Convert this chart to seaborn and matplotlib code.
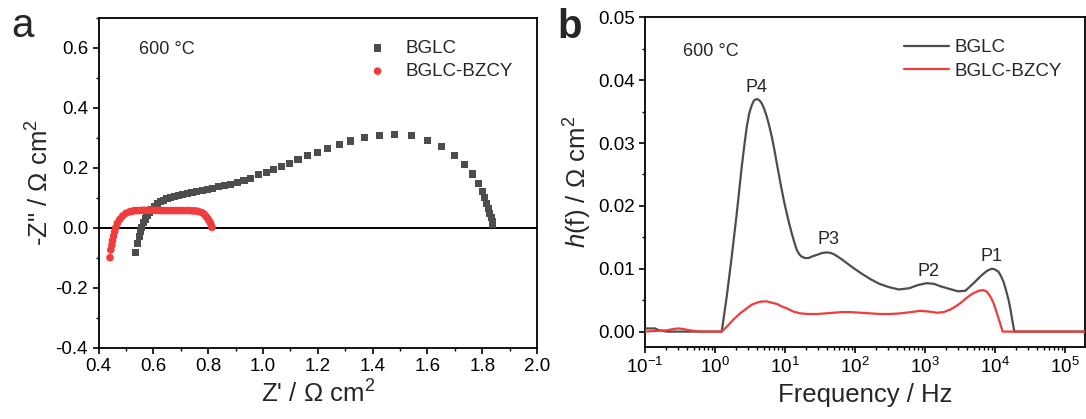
import numpy as np
import pandas as pd
import matplotlib
matplotlib.use("Agg")
import matplotlib.pyplot as plt
import matplotlib.ticker as mticker
import seaborn as sns

# ---------------- data: panel a (Nyquist) ----------------
zre_bglc = [0.535, 0.542, 0.548, 0.553, 0.558, 0.564, 0.570, 0.577, 0.585, 0.594,
            0.604, 0.614, 0.625, 0.637, 0.650, 0.663, 0.677, 0.692, 0.708, 0.724,
            0.741, 0.759, 0.778, 0.797, 0.817, 0.838, 0.860, 0.883, 0.907, 0.931,
            0.955, 0.985, 1.012, 1.039, 1.067, 1.096, 1.128, 1.162, 1.198, 1.236,
            1.278, 1.321, 1.369, 1.424, 1.480, 1.541, 1.599, 1.653, 1.698, 1.736,
            1.765, 1.785, 1.800, 1.809, 1.816, 1.822, 1.828, 1.833, 1.837, 1.839]
zim_bglc = [-0.082, -0.054, -0.028, -0.012, 0.002, 0.016, 0.029, 0.040, 0.051, 0.061,
            0.071, 0.079, 0.086, 0.092, 0.097, 0.100, 0.104, 0.107, 0.111, 0.114,
            0.117, 0.120, 0.123, 0.127, 0.131, 0.136, 0.140, 0.145, 0.151, 0.158,
            0.165, 0.176, 0.185, 0.193, 0.203, 0.215, 0.227, 0.240, 0.251, 0.263,
            0.277, 0.289, 0.300, 0.308, 0.311, 0.307, 0.292, 0.270, 0.242, 0.211,
            0.179, 0.148, 0.122, 0.100, 0.081, 0.065, 0.048, 0.035, 0.021, 0.012]

zre_bzcy = [0.442, 0.445, 0.449, 0.451, 0.455, 0.459, 0.463, 0.469, 0.478, 0.488,
            0.500, 0.514, 0.523, 0.532, 0.540, 0.550, 0.560, 0.570, 0.580, 0.590,
            0.600, 0.610, 0.620, 0.630, 0.640, 0.650, 0.660, 0.670, 0.680, 0.690,
            0.700, 0.710, 0.720, 0.730, 0.740, 0.750, 0.760, 0.768, 0.778, 0.786,
            0.792, 0.798, 0.803, 0.808, 0.811, 0.814]
zim_bzcy = [-0.100, -0.074, -0.058, -0.043, -0.028, -0.013, 0.000, 0.015, 0.028, 0.039,
            0.048, 0.053, 0.055, 0.057, 0.057, 0.057, 0.058, 0.058, 0.058, 0.058,
            0.058, 0.058, 0.057, 0.057, 0.057, 0.057, 0.057, 0.057, 0.057, 0.057,
            0.057, 0.057, 0.057, 0.057, 0.056, 0.056, 0.055, 0.053, 0.050, 0.045,
            0.038, 0.031, 0.024, 0.017, 0.009, 0.001]

# ---------------- data: panel b (DRT), frequency given as log10(f / Hz) ----------------
logf_bglc = [-1.00, -0.93, -0.857, -0.82, -0.785, -0.69, 0.097, 0.169, 0.240, 0.312,
             0.383, 0.420, 0.455, 0.490, 0.526, 0.560, 0.598, 0.635, 0.670, 0.705,
             0.741, 0.777, 0.813, 0.850, 0.884, 0.920, 0.956, 0.990, 1.027, 1.063,
             1.099, 1.135, 1.170, 1.205, 1.242, 1.290, 1.336, 1.400, 1.456, 1.530,
             1.599, 1.660, 1.718, 1.800, 1.885, 1.981, 2.100, 2.230, 2.350, 2.479,
             2.628, 2.778, 2.900, 3.027, 3.130, 3.226, 3.350, 3.475, 3.580, 3.697,
             3.760, 3.817, 3.870, 3.911, 3.960, 4.000, 4.054, 4.090, 4.126, 4.160,
             4.198, 4.225, 4.246, 4.265, 4.279, 5.400]
h_bglc = [0.0005, 0.0005, 0.0005, 0.0003, 0.0002, 0.0, 0.0, 0.0056, 0.0119, 0.0188,
          0.0262, 0.0296, 0.0326, 0.0347, 0.0360, 0.0368, 0.0370, 0.0368, 0.0363, 0.0354,
          0.0342, 0.0327, 0.0310, 0.0289, 0.0268, 0.0246, 0.0225, 0.0206, 0.0188, 0.0171,
          0.0156, 0.0142, 0.0130, 0.0123, 0.0119, 0.0117, 0.0117, 0.0120, 0.0122, 0.0125,
          0.0126, 0.0125, 0.0122, 0.0116, 0.0109, 0.0101, 0.0092, 0.0083, 0.0076, 0.0071,
          0.0067, 0.0069, 0.0074, 0.0077, 0.0076, 0.0072, 0.0068, 0.0064, 0.0065, 0.0077,
          0.0084, 0.0090, 0.0095, 0.0098, 0.0100, 0.0099, 0.0095, 0.0088, 0.0079, 0.0066,
          0.0050, 0.0035, 0.0021, 0.0009, 0.0, 0.0]

logf_bzcy = [-1.00, -0.69, -0.60, -0.523, -0.45, -0.36, -0.213, 0.097, 0.180, 0.263,
             0.360, 0.455, 0.530, 0.598, 0.670, 0.741, 0.810, 0.884, 0.956, 1.027,
             1.120, 1.218, 1.330, 1.456, 1.580, 1.694, 1.800, 1.933, 2.080, 2.219,
             2.360, 2.505, 2.650, 2.800, 2.934, 3.050, 3.173, 3.270, 3.363, 3.440,
             3.506, 3.580, 3.650, 3.710, 3.769, 3.840, 3.880, 3.911, 3.950, 3.983,
             4.020, 4.054, 4.085, 4.112, 5.400]
h_bzcy = [0.0, 0.0002, 0.0004, 0.0005, 0.0004, 0.0002, 0.0, 0.0, 0.0009, 0.0019,
          0.0029, 0.0037, 0.0043, 0.0046, 0.0048, 0.0048, 0.0046, 0.0044, 0.0040, 0.0037,
          0.0032, 0.0029, 0.0028, 0.0028, 0.0029, 0.0030, 0.0031, 0.0031, 0.0030, 0.0029,
          0.0028, 0.0028, 0.0029, 0.0031, 0.0033, 0.0032, 0.0030, 0.0031, 0.0035, 0.0040,
          0.0045, 0.0052, 0.0058, 0.0062, 0.0065, 0.0066, 0.0064, 0.0060, 0.0053, 0.0045,
          0.0033, 0.0021, 0.0010, 0.0, 0.0]

peak_labels = ["P4", "P3", "P2", "P1"]
peak_freq = [3.95, 41.5, 1125, 9080]
peak_h = [0.0389, 0.0146, 0.0095, 0.0119]

series_names = ["BGLC", "BGLC-BZCY"]
temp_label = "600 °C"

GRAY = "#4d4d4d"
RED = "#f03c3c"

# ---------------- style ----------------
sns.set_style("ticks")
plt.rcParams["font.family"] = ["Liberation Sans", "DejaVu Sans"]
plt.rcParams["mathtext.fontset"] = "custom"
plt.rcParams["mathtext.rm"] = "Liberation Sans"
plt.rcParams["mathtext.it"] = "Liberation Sans:italic"
plt.rcParams["mathtext.bf"] = "Liberation Sans:bold"
plt.rcParams["axes.unicode_minus"] = False
plt.rcParams["axes.linewidth"] = 1.3
plt.rcParams["axes.edgecolor"] = "black"
for ax_ in ("xtick", "ytick"):
    plt.rcParams[f"{ax_}.direction"] = "out"
    plt.rcParams[f"{ax_}.major.size"] = 4
    plt.rcParams[f"{ax_}.minor.size"] = 2.2
    plt.rcParams[f"{ax_}.major.width"] = 1.2
    plt.rcParams[f"{ax_}.minor.width"] = 1.0
    plt.rcParams[f"{ax_}.color"] = "black"

TICK_FS = 13.5
LABEL_FS = 18.5
LEG_FS = 13.5
SMALL_FS = 13

fig = plt.figure(figsize=(10.86, 4.19), dpi=100)
ax1 = fig.add_axes([0.0907, 0.1702, 0.4038, 0.7876])
ax2 = fig.add_axes([0.5939, 0.1726, 0.4052, 0.7861])

# ---------------- panel a ----------------
df_a1 = pd.DataFrame({"zre": zre_bglc, "zim": zim_bglc})
df_a2 = pd.DataFrame({"zre": zre_bzcy, "zim": zim_bzcy})
ax1.axhline(0, color="black", lw=1.4, zorder=1)
sns.scatterplot(data=df_a1, x="zre", y="zim", marker="s", s=26, color=GRAY,
                edgecolor="none", label=series_names[0], ax=ax1, zorder=3)
sns.scatterplot(data=df_a2, x="zre", y="zim", marker="o", s=30, color=RED,
                edgecolor="none", label=series_names[1], ax=ax1, zorder=4)
ax1.set_xlim(0.4, 2.0)
ax1.set_ylim(-0.4, 0.7)
ax1.xaxis.set_major_locator(mticker.MultipleLocator(0.2))
ax1.xaxis.set_minor_locator(mticker.MultipleLocator(0.1))
ax1.yaxis.set_major_locator(mticker.FixedLocator([-0.4, -0.2, 0.0, 0.2, 0.4, 0.6]))
ax1.yaxis.set_minor_locator(mticker.MultipleLocator(0.1))
ax1.xaxis.set_major_formatter(mticker.FormatStrFormatter("%.1f"))
ax1.yaxis.set_major_formatter(mticker.FormatStrFormatter("%.1f"))
ax1.tick_params(labelsize=TICK_FS)
ax1.set_xlabel("Z' / Ω cm$^2$", fontsize=LABEL_FS, labelpad=4)
ax1.set_ylabel('-Z" / Ω cm$^2$', fontsize=LABEL_FS, labelpad=1)
ax1.text(0.092, 0.905, temp_label, transform=ax1.transAxes, fontsize=SMALL_FS,
         ha="left", va="center")
ax1.legend(loc="upper left", bbox_to_anchor=(0.615, 0.933), frameon=False,
           fontsize=LEG_FS, handlelength=1.0, handletextpad=1.0,
           labelspacing=0.32, borderpad=0, borderaxespad=0, markerscale=1.0)
for sp in ax1.spines.values():
    sp.set_visible(True)

# ---------------- panel b ----------------
df_b1 = pd.DataFrame({"f": np.power(10.0, logf_bglc), "h": h_bglc})
df_b2 = pd.DataFrame({"f": np.power(10.0, logf_bzcy), "h": h_bzcy})
sns.lineplot(data=df_b1, x="f", y="h", color=GRAY, lw=1.6, sort=False,
             estimator=None, label=series_names[0], ax=ax2, zorder=3)
sns.lineplot(data=df_b2, x="f", y="h", color=RED, lw=1.6, sort=False,
             estimator=None, label=series_names[1], ax=ax2, zorder=4)
ax2.set_xscale("log")
ax2.set_xlim(0.1, 1.95e5)
ax2.set_ylim(-0.0024, 0.05)
ax2.xaxis.set_major_locator(mticker.LogLocator(base=10, numticks=20))
ax2.xaxis.set_minor_locator(mticker.LogLocator(base=10, subs=np.arange(2, 10), numticks=20))
ax2.xaxis.set_minor_formatter(mticker.NullFormatter())
ax2.yaxis.set_major_locator(mticker.MultipleLocator(0.01))
ax2.yaxis.set_minor_locator(mticker.MultipleLocator(0.005))
ax2.yaxis.set_major_formatter(mticker.FormatStrFormatter("%.2f"))
ax2.tick_params(labelsize=TICK_FS)
ax2.set_xlabel("Frequency / Hz", fontsize=LABEL_FS, labelpad=4)
ax2.set_ylabel("$h$(f) / Ω cm$^2$", fontsize=LABEL_FS, labelpad=3)
ax2.text(0.086, 0.895, temp_label, transform=ax2.transAxes, fontsize=SMALL_FS,
         ha="left", va="center")
for lab, fx, hy in zip(peak_labels, peak_freq, peak_h):
    ax2.text(fx, hy, lab, fontsize=SMALL_FS, ha="center", va="center")
ax2.legend(loc="upper left", bbox_to_anchor=(0.5886, 0.933), frameon=False,
           fontsize=LEG_FS, handlelength=2.4, handletextpad=0.3,
           labelspacing=0.32, borderpad=0, borderaxespad=0)
for sp in ax2.spines.values():
    sp.set_visible(True)

fig.text(0.021, 0.912, "a", fontsize=29, ha="center", va="baseline")
fig.text(0.525, 0.909, "b", fontsize=29, fontweight="bold", ha="center", va="baseline")

fig.savefig("out.png", dpi=100)
